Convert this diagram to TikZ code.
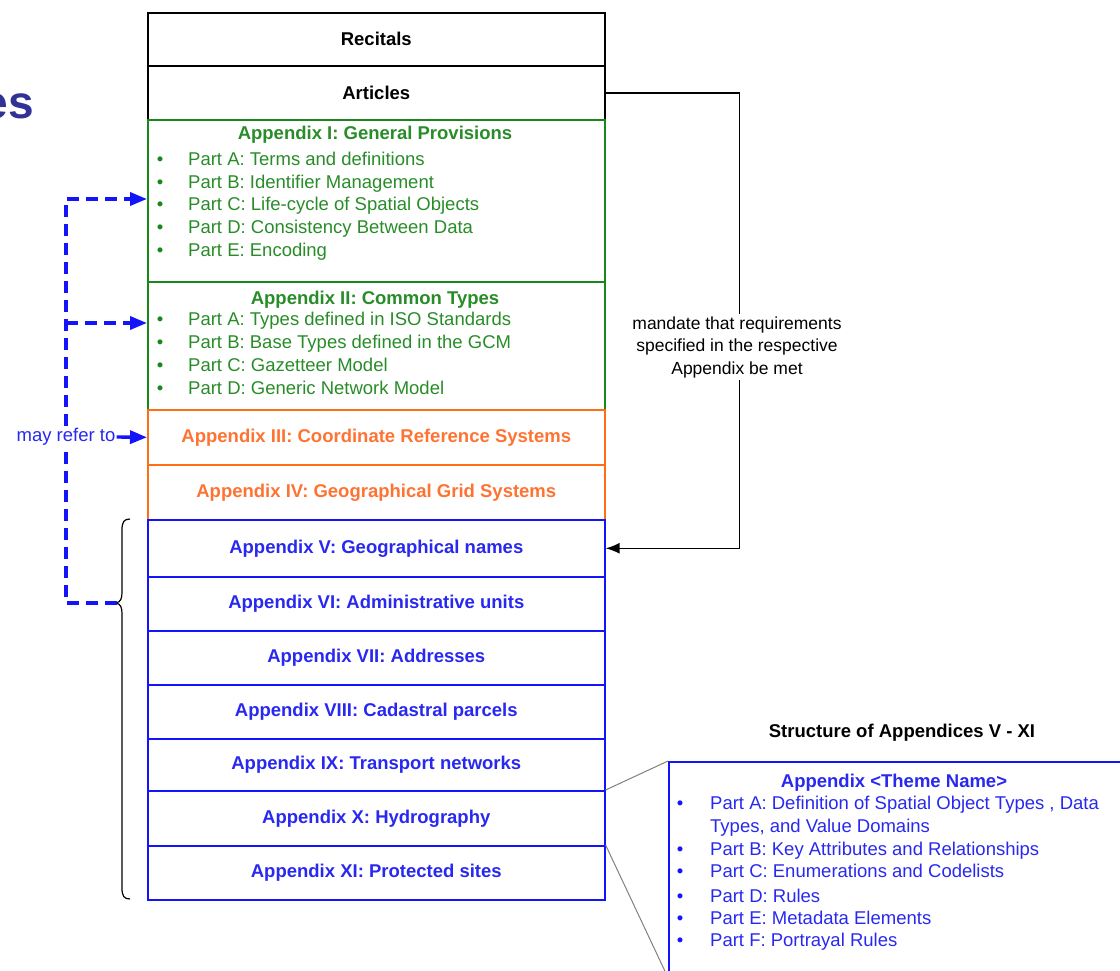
\documentclass[tikz,border=0pt]{standalone}
\usepackage{fontspec}
\setmainfont{Liberation Sans}
\usetikzlibrary{arrows.meta}
\definecolor{grn}{RGB}{25,135,25}
\definecolor{grntxt}{RGB}{40,140,40}
\definecolor{org}{RGB}{255,110,20}
\definecolor{orgtxt}{RGB}{255,115,50}
\definecolor{blu}{RGB}{20,20,250}
\definecolor{blutxt}{RGB}{40,40,240}
\definecolor{esc}{RGB}{50,50,150}
\begin{document}
\begin{tikzpicture}[x=1pt,y=-1pt,
  fs/.style={font=\fontsize{18.5}{22}\selectfont},
  fb/.style={font=\fontsize{18.5}{22}\selectfont\bfseries},
  box/.style={draw,line width=1.6pt,minimum width=457pt,inner sep=0pt,anchor=north west,fb},
  blackbox/.style={box,draw=black,text=black},
  greenbox/.style={box,draw=grn},
  orangebox/.style={box,draw=org,text=orgtxt},
  bluebox/.style={box,draw=blu,text=blutxt},
  gitem/.style={fs,text=grntxt,anchor=base west,inner sep=0pt},
  bitem/.style={fs,text=blutxt,anchor=base west,inner sep=0pt},
  bull/.style={fs,anchor=base,inner sep=0pt},
  bdash/.style={draw=blu,line width=3.4pt,dash pattern=on 12pt off 7pt},
  btip/.style={-{Triangle[length=17pt,width=13pt]}},
  ktip/.style={-{Latex[length=14pt,width=11pt]}}
]
\useasboundingbox (0,0) rectangle (1120,971);
\clip (0,0) rectangle (1120,971);

% partial title
\node[font=\fontsize{46}{46}\selectfont\bfseries,text=esc,anchor=east,inner sep=0pt] (es) at (34,106) {es};

% main column
\node[blackbox,minimum height=53pt] (rec) at (147,12) {\raisebox{2pt}{Recitals}};
\node[blackbox,minimum height=54pt] (art) at (147,65) {Articles};
\node[greenbox,minimum height=162pt] (a1) at (147,119) {};
\node[greenbox,minimum height=128pt] (a2) at (147,281) {};
\node[orangebox,minimum height=55pt] (a3) at (147,409) {Appendix III: Coordinate Reference Systems};
\node[orangebox,minimum height=55pt] (a4) at (147,464) {Appendix IV: Geographical Grid Systems};
\node[bluebox,minimum height=57pt] (a5) at (147,519) {Appendix V: Geographical names};
\node[bluebox,minimum height=54pt] (a6) at (147,576) {Appendix VI: Administrative units};
\node[bluebox,minimum height=54pt] (a7) at (147,630) {Appendix VII: Addresses};
\node[bluebox,minimum height=54pt] (a8) at (147,684) {Appendix VIII: Cadastral parcels};
\node[bluebox,minimum height=52pt] (a9) at (147,738) {Appendix IX: Transport networks};
\node[bluebox,minimum height=55pt] (a10) at (147,790) {Appendix X: Hydrography};
\node[bluebox,minimum height=54pt] (a11) at (147,845) {Appendix XI: Protected sites};

% Appendix I content
\node[fb,text=grntxt,inner sep=0pt,anchor=base] (a1t) at (375,140) {Appendix I: General Provisions};
\foreach \y/\t [count=\i] in {159/{Part A: Terms and definitions},182/{Part B: Identifier Management},204/{Part C: Life-cycle of Spatial Objects},227/{Part D: Consistency Between Data},250/{Part E: Encoding}}{
  \node[bull,text=grn] (a1b\i) at (160,\y+6.5) {•};
  \node[gitem] (a1i\i) at (188,\y+6.5) {\t};
}
% Appendix II content
\node[fb,text=grntxt,inner sep=0pt,anchor=base] (a2t) at (375,304) {Appendix II: Common Types};
\foreach \y/\t [count=\i] in {319/{Part A: Types defined in ISO Standards},342/{Part B: Base Types defined in the  GCM},365/{Part C: Gazetteer Model},388/{Part D: Generic Network Model}}{
  \node[bull,text=grn] (a2b\i) at (160,\y+6.5) {•};
  \node[gitem] (a2i\i) at (188,\y+6.5) {\t};
}

% mandate arrow
\draw[line width=1.6pt,ktip] (art.east) -- ++(134,0) |- (a5.east);
\node[fs,fill=white,align=center,inner sep=2pt,font=\fontsize{17.5}{22.5}\selectfont] (mand) at (737,347) {mandate that requirements\\specified in the respective\\Appendix be met};

% brace
\draw[line width=1.2pt] (130,519) .. controls (124,519) and (122,522) .. (122,530) -- (122,592) .. controls (122,598) and (121,602) .. (116,603) .. controls (121,604) and (122,608) .. (122,614) -- (122,888) .. controls (122,896) and (124,899) .. (130,899);
\coordinate (bt) at (117,603);

% may refer to
\coordinate (c1) at (66,199);
\coordinate (c2) at (66,323);
\coordinate (c3) at (66,603);
\draw[bdash,btip] (bt) -- (c3) -- (c1) -- (a1.west |- c1);
\draw[bdash,btip] (c2) -- (a2.west |- c2);
\node[fs,text=blutxt,fill=white,inner sep=1pt] (ref) at (66,437) {may refer to};
\draw[draw=blu,line width=3.4pt,btip] (ref.east) -- (a3.west);

% template box
\node[fb,text=black,inner sep=0pt,anchor=base] (sh) at (902,737) {Structure of Appendices V - XI};
\node[draw=blu,line width=1.6pt,anchor=north west,minimum width=480pt,minimum height=215pt,inner sep=0pt] (tpl) at (668,761) {};
\draw[gray,line width=1pt] (a10.north east) -- (tpl.north west);
\draw[gray,line width=1pt] (a11.north east) -- (tpl.south west);
\node[fb,text=blutxt,inner sep=0pt,anchor=base] (tplt) at (894,787) {Appendix <Theme Name>};
\node[bull,text=blu] (tb1) at (680,809.5) {•};
\node[bitem] (ti1) at (710,809.5) {Part A: Definition of Spatial Object Types , Data};
\node[bitem] (ti1b) at (710,832.5) {Types, and Value Domains};
\foreach \y/\t [count=\i from 2] in {849/{Part B: Key Attributes and Relationships},871/{Part C: Enumerations and Codelists},896/{Part D: Rules},918/{Part E: Metadata Elements},940/{Part F: Portrayal Rules}}{
  \node[bull,text=blu] (tb\i) at (680,\y+6.5) {•};
  \node[bitem] (ti\i) at (710,\y+6.5) {\t};
}
\end{tikzpicture}
\end{document}
